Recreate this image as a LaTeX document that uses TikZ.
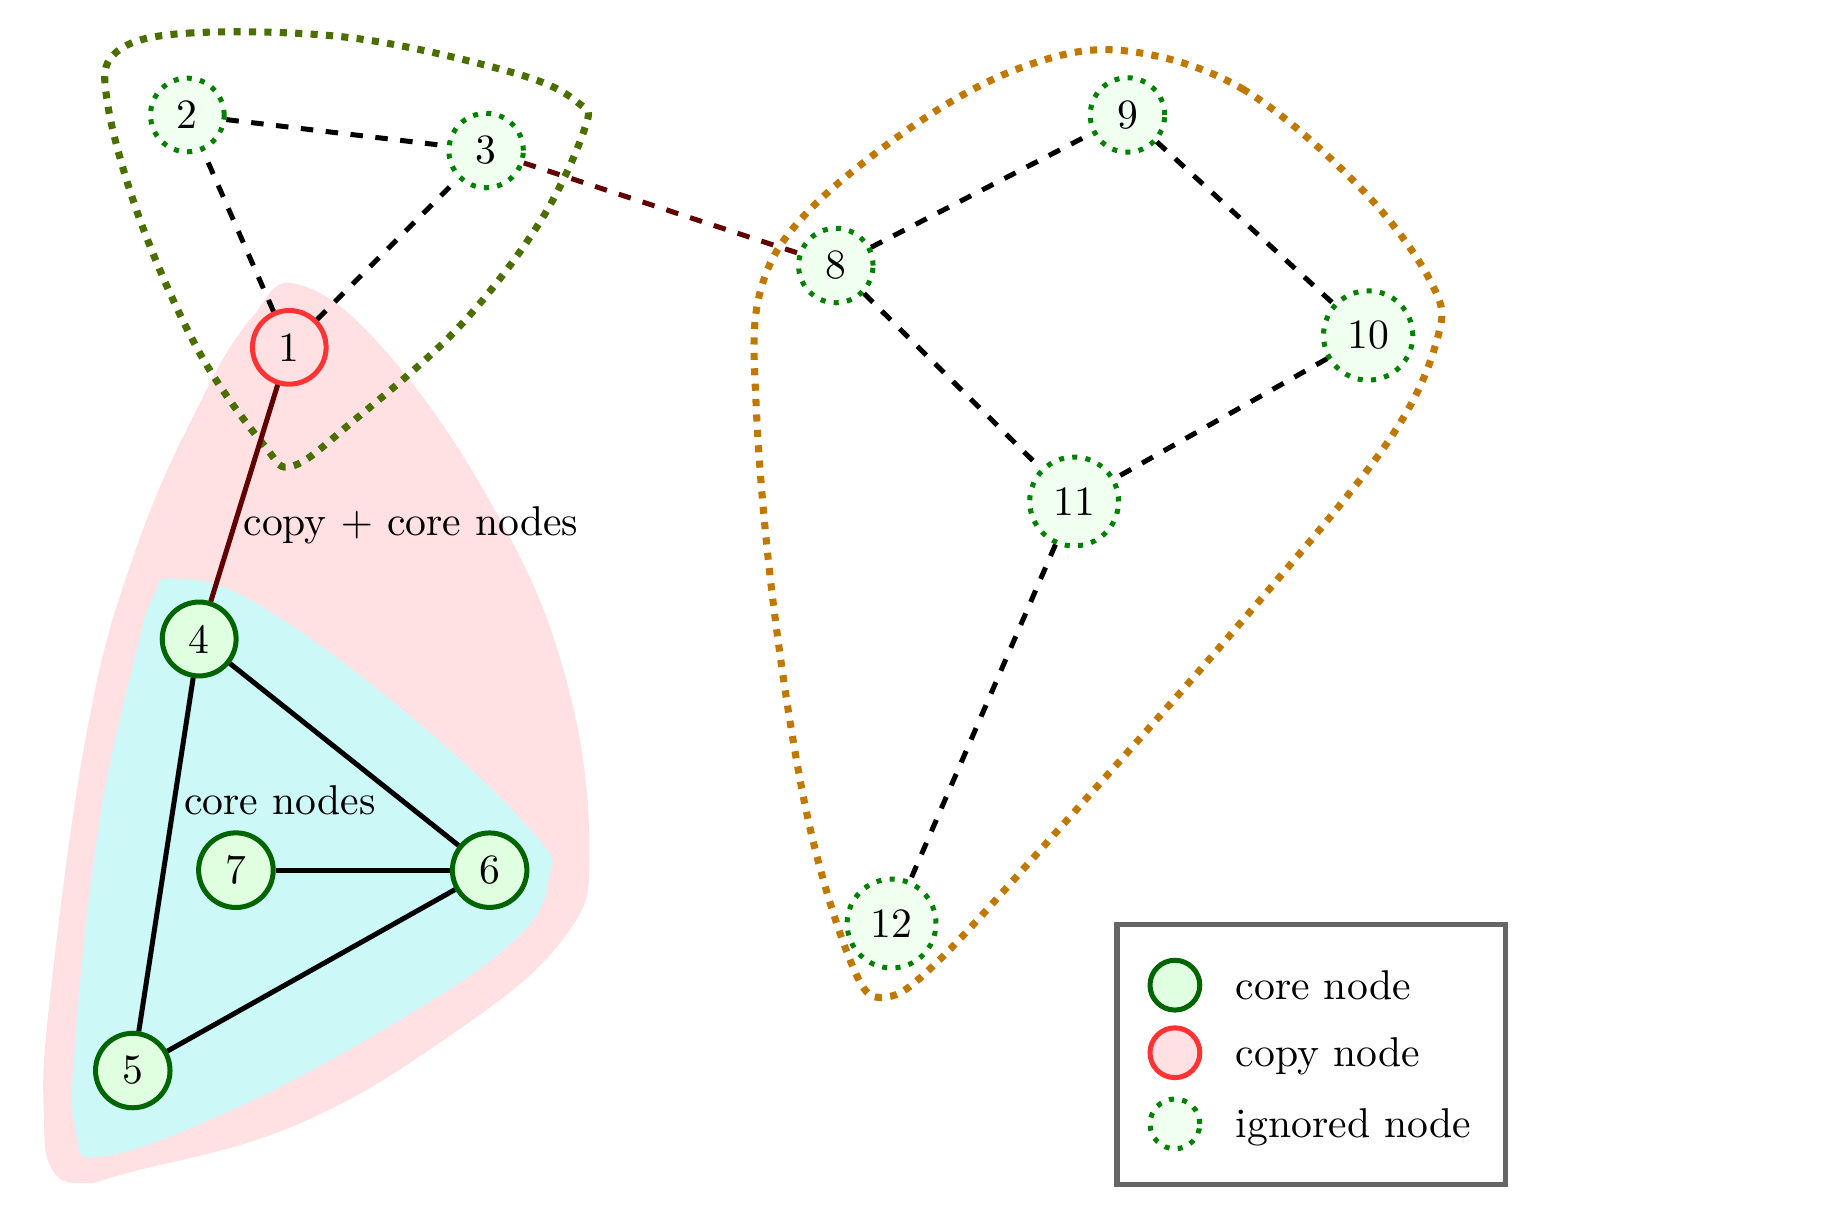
\documentclass[tikz,border=0pt]{standalone}
\usetikzlibrary{calc}
\usepackage{xcolor}
\usepackage{amsmath}
\definecolor{corefill}{HTML}{E0FFE0}
\definecolor{coredraw}{HTML}{006400}
\definecolor{copyfill}{HTML}{FFE1E4}
\definecolor{copydraw}{HTML}{FF3333}
\definecolor{ignfill}{HTML}{F0FFF0}
\definecolor{igndraw}{HTML}{008000}
\definecolor{hullolive}{HTML}{4B6E00}
\definecolor{hullorange}{HTML}{C07800}
\definecolor{hullcyan}{HTML}{CCF8F8}
\definecolor{bridge}{HTML}{600000}

\begin{document}
\begin{tikzpicture}[
 core/.style={circle, draw=coredraw, fill=corefill, very thick},
 copynode/.style={circle, draw=copydraw, fill=copyfill, very thick},
 ignored/.style={circle, draw=igndraw, fill=ignfill, very thick, dotted},
 hull/.style={line width=1.7pt, dotted},
 edge/.style={black, very thick}
 ]
\useasboundingbox (0,1.77) rectangle (15.52,12.03);
% groups
\fill[copyfill] plot[smooth cycle, tension=.7] coordinates {(2.52,9.63) (3.26,9.06) (4.15,7.77) (4.75,6.39) (4.97,4.91) (4.75,4.11) (3.76,3.27) (2.47,2.53) (1.09,2.14) (0.72,2.05) (0.45,2.15) (0.37,2.60) (0.42,3.60) (0.74,5.90) (1.14,7.38) (1.68,8.62) (2.13,9.36)};
\fill[hullcyan] plot[smooth cycle, tension=.7] coordinates {(1.48,7.15) (2.18,6.93) (3.46,5.99) (4.50,5.00) (4.63,4.63) (4.35,4.11) (3.36,3.42) (1.98,2.68) (0.89,2.28) (0.64,2.48) (0.64,3.32) (0.84,5.10) (1.14,6.49) (1.29,6.99)};
\draw[hull, hullolive] plot[smooth cycle, tension=.6] coordinates {(0.97,11.58) (1.58,11.75) (2.97,11.71) (4.35,11.41) (4.88,11.16) (4.93,10.94) (4.55,10.15) (3.86,9.26) (2.97,8.47) (2.47,8.10) (2.23,8.27) (1.68,9.06) (1.19,10.15) (0.91,11.14)};
\draw[hull, hullorange] plot[smooth cycle, tension=.6] coordinates {(9.50,11.60) (10.48,11.28) (11.47,10.45) (12.07,9.65) (12.12,9.16) (11.67,8.25) (10.39,6.69) (8.90,5.00) (7.91,3.92) (7.47,3.62) (7.20,3.86) (6.82,5.10) (6.53,6.88) (6.38,8.57) (6.41,9.56) (6.82,10.25) (7.81,11.04) (8.70,11.49)};

\node[copynode] (n1) at (2.44,9.10) {1};
\node[ignored] (n2) at (1.58,11.06) {2};
\node[ignored] (n3) at (4.10,10.76) {3};
\node[core] (n4) at (1.68,6.64) {4};
\node[core] (n5) at (1.12,3.00) {5};
\node[core] (n6) at (4.13,4.69) {6};
\node[core] (n7) at (1.99,4.69) {7};
\node[ignored] (n8) at (7.05,9.79) {8};
\node[ignored] (n9) at (9.51,11.06) {9};
\node[ignored] (n10) at (11.54,9.20) {10};
\node[ignored] (n11) at (9.06,7.80) {11};
\node[ignored] (n12) at (7.52,4.24) {12};

\foreach \a/\b in {1/2, 1/3, 2/3, 8/9, 9/10, 8/11, 10/11, 11/12}
 \draw[edge, dashed] (n\a) -- (n\b);
\foreach \a/\b in {4/5, 4/6, 5/6, 7/6}
 \draw[edge] (n\a) -- (n\b);
\draw[very thick, bridge] (n1) -- (n4);
\draw[very thick, bridge, dashed] (n3) -- (n8);

\node[anchor=west] (lblcopy) at (1.93,7.60) {copy $+$ core nodes};
\node[anchor=west] (lblcore) at (1.43,5.28) {core nodes};

% legend
\draw[line width=1.3pt, black!60] (9.42,4.23) rectangle (12.70,2.04);
\node[core, minimum size=4.2mm] (lgcore) at (9.91,3.72) {};
\node[copynode, minimum size=4.2mm] (lgcopy) at (9.91,3.15) {};
\node[ignored, minimum size=4.2mm] (lgign) at (9.91,2.55) {};
\node[anchor=west] (txcore) at (10.30,3.72) {core node};
\node[anchor=west] (txcopy) at (10.30,3.12) {copy node};
\node[anchor=west] (txign) at (10.30,2.52) {ignored node};
\end{tikzpicture}
\end{document}
